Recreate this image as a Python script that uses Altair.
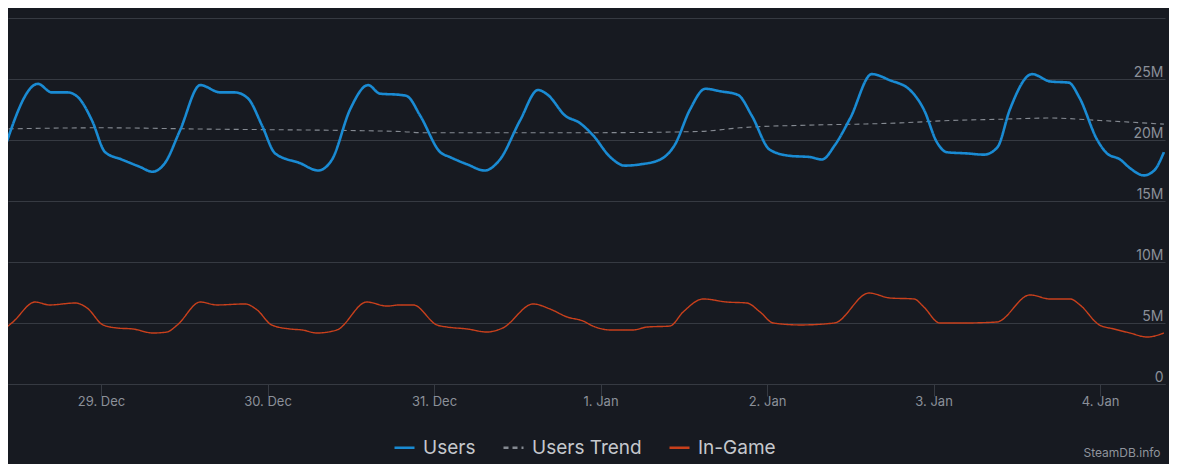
import altair as alt
import pandas as pd

# ---- data (hours since 28 Dec 00:00 UTC, values in millions) ----
users_h = [9.7, 14.9, 16.9, 19.2, 20.7, 22.7, 24.6, 27.0, 29.6, 31.4, 33.2, 35.4,
           38.3, 41.2, 43.3, 45.2, 47.2, 49.1, 52.7, 55.3, 57.3, 59.9, 62.5, 64.2,
           67.1, 68.1, 70.0, 72.9, 74.3, 76.8, 79.3, 81.5, 84.4, 87.0, 88.4, 90.9,
           93.0, 94.9, 97.4, 99.5, 101.7, 104.6, 106.7, 108.9, 111.1, 113.2, 115.8,
           117.8, 120.4, 123.3, 126.2, 127.9, 129.8, 132.0, 135.1, 137.7, 140.6,
           142.6, 144.5, 145.9, 148.8, 151.3, 153.2, 155.0, 158.2, 160.8, 163.5,
           165.0, 167.6, 169.0, 170.9, 172.3, 174.3, 175.8, 177.2]
users_v = [18.6, 24.6, 23.9, 23.9, 23.5, 21.6, 19.0, 18.4, 17.8, 17.4, 18.1, 20.8,
           24.5, 23.9, 23.9, 23.4, 21.2, 18.9, 18.1, 17.5, 18.4, 22.5, 24.5, 23.8,
           23.7, 23.6, 22.0, 19.0, 18.6, 18.0, 17.5, 18.4, 21.6, 24.1, 23.7, 22.0,
           21.4, 20.4, 18.6, 17.9, 18.0, 18.4, 19.6, 22.5, 24.2, 24.0, 23.7,
           22.0, 19.2, 18.7, 18.6, 18.4, 19.6, 21.8, 25.4, 24.9, 24.1,
           22.5, 19.8, 19.0, 18.9, 18.8, 19.4, 22.5, 25.4, 24.8, 24.7,
           23.5, 20.0, 18.9, 18.4, 17.7, 17.1, 17.5, 19.0]

trend_h = [9.4, 23.9, 38.3, 67.1, 70.0, 81.5, 95.9, 110.3, 116.1, 119.0, 124.8,
           139.2, 146.4, 153.6, 160.8, 168.0, 177.2]
trend_v = [20.9, 21.0, 20.9, 20.7, 20.6, 20.6, 20.6, 20.7, 21.0, 21.1, 21.2,
           21.4, 21.6, 21.7, 21.8, 21.6, 21.3]

ingame_h = [9.7, 11.3, 14.5, 16.6, 20.3, 22.0, 24.3, 26.3, 28.6, 31.5, 33.5, 35.0,
            38.3, 40.7, 44.8, 46.5, 48.6, 51.2, 53.0, 55.1, 58.0, 62.3, 65.2, 67.1,
            69.0, 72.4, 73.9, 76.8, 79.6, 81.9, 86.3, 88.7, 91.2, 93.5, 94.9, 97.4,
            100.7, 102.7, 106.0, 107.9, 110.8, 114.2, 117.1, 119.0, 120.9, 124.8,
            129.7, 134.7, 137.7, 141.2, 142.6, 144.9, 148.4, 153.1, 157.9, 160.8,
            163.7, 165.1, 167.9, 170.0, 172.3, 174.8, 177.2]
ingame_v = [4.34, 5.08, 6.72, 6.48, 6.64, 6.23, 4.84, 4.59, 4.51, 4.18, 4.26, 4.84,
            6.72, 6.48, 6.56, 6.07, 4.84, 4.51, 4.43, 4.18, 4.43, 6.72, 6.39, 6.48,
            6.48, 4.84, 4.67, 4.51, 4.26, 4.59, 6.56, 6.15, 5.49, 5.16, 4.75, 4.43,
            4.43, 4.67, 4.75, 5.90, 6.97, 6.72, 6.64, 5.90, 5.00, 4.84,
            5.00, 7.46, 7.05, 6.97, 6.31, 5.00, 5.00, 5.08, 7.30, 6.97,
            6.97, 6.48, 4.84, 4.51, 4.18, 3.85, 4.18]

series = ["Users", "Users Trend", "In-Game"]
colors = ["#1a8bd3", "#858a92", "#c9401c"]
dashes = [[1, 0], [5, 4], [1, 0]]
day_ticks = ["2023-12-29", "2023-12-30", "2023-12-31", "2024-01-01",
             "2024-01-02", "2024-01-03", "2024-01-04"]

base_ms = int(pd.Timestamp("2023-12-28T00:00:00Z").timestamp() * 1000)
H = 3600 * 1000


def frame(hs, vs, name):
    return pd.DataFrame({"t": [base_ms + h * H for h in hs],
                         "v": [v * 1e6 for v in vs],
                         "s": name})


df = pd.concat([frame(users_h, users_v, "Users"),
                frame(trend_h, trend_v, "Users Trend"),
                frame(ingame_h, ingame_v, "In-Game")], ignore_index=True)

tick_ms = [int(pd.Timestamp(d + "T00:00:00Z").timestamp() * 1000) for d in day_ticks]
x_dom = [base_ms + 10.595 * H, base_ms + 177.36 * H]

grid_c = "#363a42"
lab_c = "#8b9099"

leg = alt.Legend(orient="none", legendX=385, legendY=418, direction="horizontal",
                 title=None, labelColor="#c5c8cd", labelFontSize=19, labelFont="Inter",
                 symbolType="stroke", symbolSize=400, symbolStrokeWidth=2.5,
                 labelOffset=7, columnPadding=22, padding=0)

x_enc = alt.X("t:T", scale=alt.Scale(type="utc", domain=x_dom),
              axis=alt.Axis(values=tick_ms, labelExpr="utcFormat(datum.value, '%-d. %b')",
                            title=None, grid=False, domain=True, domainColor=grid_c, ticks=True,
                            tickColor=grid_c, tickSize=12, labelColor=lab_c, labelFontSize=13,
                            labelPadding=-1, labelFont="Inter"))
y_enc = alt.Y("v:Q", scale=alt.Scale(domain=[0, 30e6], nice=False),
              axis=alt.Axis(orient="right", values=[0, 5e6, 10e6, 15e6, 20e6, 25e6, 30e6],
                            labelExpr="datum.value == 0 ? '0' : (datum.value >= 30000000 ? '' : datum.value / 1000000 + 'M')",
                            title=None, domain=False, ticks=False, grid=True, gridColor=grid_c,
                            labelAlign="right", labelBaseline="alphabetic", labelPadding=-2,
                            labelOffset=-3, labelFlush=False, labelColor=lab_c,
                            labelFontSize=14, labelFont="Inter"))
c_enc = alt.Color("s:N", scale=alt.Scale(domain=series, range=colors), legend=leg)
d_enc = alt.StrokeDash("s:N", scale=alt.Scale(domain=series, range=dashes), legend=leg)

base = alt.Chart(df).encode(x=x_enc, y=y_enc, color=c_enc, strokeDash=d_enc)


def layer_for(name, width):
    return base.transform_filter(alt.datum.s == name).mark_line(
        interpolate="monotone", clip=True, strokeWidth=width)


credit = alt.Chart(pd.DataFrame({"txt": ["SteamDB.info"]})).mark_text(
    align="center", baseline="middle", fontSize=12, font="Inter", color="#8f949c"
).encode(x=alt.value(1114), y=alt.value(435), text="txt:N")

chart = alt.layer(
    layer_for("Users Trend", 1.1),
    layer_for("Users", 2.6),
    layer_for("In-Game", 1.4),
    credit,
).properties(
    width=1157, height=366,
    autosize=alt.AutoSizeParams(type="none"),
    padding={"left": 0, "top": 10, "right": 4, "bottom": 80},
    background="#171a21",
).configure_view(stroke=None)

chart.save("out.html", embed_options={"renderer": "svg", "actions": False})
